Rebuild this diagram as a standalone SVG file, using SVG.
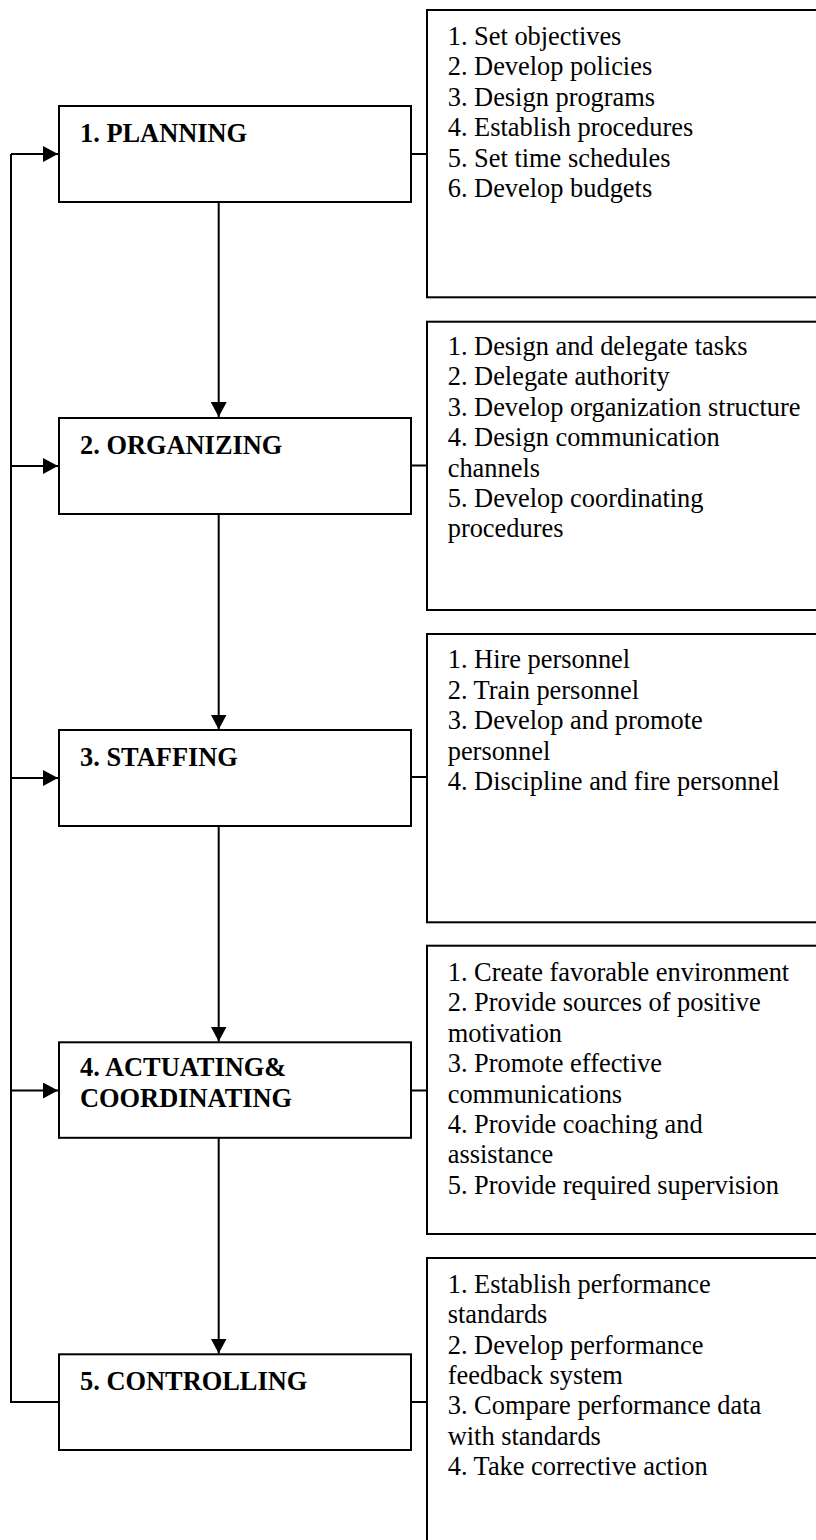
<svg xmlns="http://www.w3.org/2000/svg" width="816" height="1540" viewBox="0 0 816 1540">
  <style>
    .box { fill: #fff; stroke: #000; stroke-width: 2; }
    .wire { fill: none; stroke: #000; stroke-width: 2; }
    .head { font-family: "Liberation Serif", "Times New Roman", serif; font-weight: bold; font-size: 26.4px; fill: #000; }
    .item { font-family: "Liberation Serif", "Times New Roman", serif; font-size: 26.4px; fill: #000; }
  </style>
  <defs>
    <marker id="arrow" markerUnits="userSpaceOnUse" markerWidth="16" markerHeight="16" viewBox="0 0 16 16" refX="15" refY="8" orient="auto">
      <path d="M0,0 L15,8 L0,16 Z" fill="#000"/>
    </marker>
  </defs>
  <rect width="816" height="1540" fill="#fff"/>

  <!-- connectors -->
  <g id="connectors">
    <!-- feedback loop from controlling back to every stage -->
    <path class="wire" d="M59,1402 H11 V154"/>
    <line class="wire" x1="11" y1="154" x2="58" y2="154" marker-end="url(#arrow)"/>
    <line class="wire" x1="11" y1="466" x2="58" y2="466" marker-end="url(#arrow)"/>
    <line class="wire" x1="11" y1="778" x2="58" y2="778" marker-end="url(#arrow)"/>
    <line class="wire" x1="11" y1="1090.5" x2="58" y2="1090.5" marker-end="url(#arrow)"/>
    <!-- sequence down the stages -->
    <line class="wire" x1="218.7" y1="202" x2="218.7" y2="417" marker-end="url(#arrow)"/>
    <line class="wire" x1="218.7" y1="514" x2="218.7" y2="729.5" marker-end="url(#arrow)"/>
    <line class="wire" x1="218.7" y1="826" x2="218.7" y2="1041.5" marker-end="url(#arrow)"/>
    <line class="wire" x1="218.7" y1="1138" x2="218.7" y2="1353.5" marker-end="url(#arrow)"/>
    <!-- links from stages to their task lists -->
    <line class="wire" x1="411" y1="154" x2="427" y2="154"/>
    <line class="wire" x1="411" y1="465.5" x2="427" y2="465.5"/>
    <line class="wire" x1="411" y1="777" x2="427" y2="777"/>
    <line class="wire" x1="411" y1="1090.5" x2="427" y2="1090.5"/>
    <line class="wire" x1="411" y1="1402" x2="427" y2="1402"/>
  </g>

  <!-- stage nodes -->
  <g id="planning">
    <rect class="box" x="59" y="106" width="352" height="96"/>
    <text class="head" x="80" y="141.7">1. PLANNING</text>
  </g>
  <g id="organizing">
    <rect class="box" x="59" y="418" width="352" height="96"/>
    <text class="head" x="80" y="454">2. ORGANIZING</text>
  </g>
  <g id="staffing">
    <rect class="box" x="59" y="730" width="352" height="96"/>
    <text class="head" x="80" y="765.7">3. STAFFING</text>
  </g>
  <g id="actuating">
    <rect class="box" x="59" y="1042.3" width="352" height="95.5"/>
    <text class="head" x="80" y="1076">4. ACTUATING&amp;</text>
    <text class="head" x="80" y="1107.3">COORDINATING</text>
  </g>
  <g id="controlling">
    <rect class="box" x="59" y="1354.3" width="352" height="95.7"/>
    <text class="head" x="80" y="1390">5. CONTROLLING</text>
  </g>

  <!-- task lists -->
  <g id="planning-tasks">
    <rect class="box" x="427" y="10" width="400" height="287.3"/>
    <text class="item" x="447.7" y="45">
      <tspan x="447.7">1. Set objectives</tspan>
      <tspan x="447.7" dy="30.4">2. Develop policies</tspan>
      <tspan x="447.7" dy="30.4">3. Design programs</tspan>
      <tspan x="447.7" dy="30.4">4. Establish procedures</tspan>
      <tspan x="447.7" dy="30.4">5. Set time schedules</tspan>
      <tspan x="447.7" dy="30.4">6. Develop budgets</tspan>
    </text>
  </g>
  <g id="organizing-tasks">
    <rect class="box" x="427" y="321.7" width="400" height="288.3"/>
    <text class="item" x="447.7" y="355">
      <tspan x="447.7">1. Design and delegate tasks</tspan>
      <tspan x="447.7" dy="30.4">2. Delegate authority</tspan>
      <tspan x="447.7" dy="30.4">3. Develop organization structure</tspan>
      <tspan x="447.7" dy="30.4">4. Design communication</tspan>
      <tspan x="447.7" dy="30.4">channels</tspan>
      <tspan x="447.7" dy="30.4">5. Develop coordinating</tspan>
      <tspan x="447.7" dy="30.4">procedures</tspan>
    </text>
  </g>
  <g id="staffing-tasks">
    <rect class="box" x="427" y="634" width="400" height="288.3"/>
    <text class="item" x="447.7" y="668.3">
      <tspan x="447.7">1. Hire personnel</tspan>
      <tspan x="447.7" dy="30.4">2. Train personnel</tspan>
      <tspan x="447.7" dy="30.4">3. Develop and promote</tspan>
      <tspan x="447.7" dy="30.4">personnel</tspan>
      <tspan x="447.7" dy="30.4">4. Discipline and fire personnel</tspan>
    </text>
  </g>
  <g id="actuating-tasks">
    <rect class="box" x="427" y="945.7" width="400" height="288.3"/>
    <text class="item" x="447.7" y="981">
      <tspan x="447.7">1. Create favorable environment</tspan>
      <tspan x="447.7" dy="30.4">2. Provide sources of positive</tspan>
      <tspan x="447.7" dy="30.4">motivation</tspan>
      <tspan x="447.7" dy="30.4">3. Promote effective</tspan>
      <tspan x="447.7" dy="30.4">communications</tspan>
      <tspan x="447.7" dy="30.4">4. Provide coaching and</tspan>
      <tspan x="447.7" dy="30.4">assistance</tspan>
      <tspan x="447.7" dy="30.4">5. Provide required supervision</tspan>
    </text>
  </g>
  <g id="controlling-tasks">
    <rect class="box" x="427" y="1258" width="400" height="300"/>
    <text class="item" x="447.7" y="1292.7">
      <tspan x="447.7">1. Establish performance</tspan>
      <tspan x="447.7" dy="30.4">standards</tspan>
      <tspan x="447.7" dy="30.4">2. Develop performance</tspan>
      <tspan x="447.7" dy="30.4">feedback system</tspan>
      <tspan x="447.7" dy="30.4">3. Compare performance data</tspan>
      <tspan x="447.7" dy="30.4">with standards</tspan>
      <tspan x="447.7" dy="30.4">4. Take corrective action</tspan>
    </text>
  </g>
</svg>
